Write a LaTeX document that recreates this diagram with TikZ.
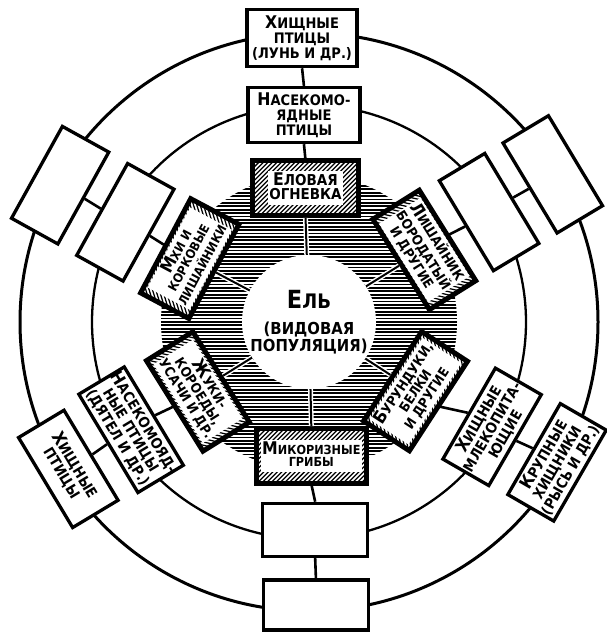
\documentclass[tikz,border=0pt]{standalone}
\usepackage{fontspec}
\setmainfont{DejaVu Sans Condensed Bold}
\usetikzlibrary{positioning}

% initial capital of a small-caps word
\newcommand{\Kap}[1]{{\fontsize{17.5}{15}\selectfont #1}}
% white text field inside a hatched box
\newcommand{\Wt}[2][13.5]{{\fontsize{#1}{14}\selectfont\setlength{\fboxsep}{1.2pt}\renewcommand{\arraystretch}{0.9}\colorbox{white}{\begin{tabular}{@{}c@{}}#2\end{tabular}}}}

\begin{document}
\begin{tikzpicture}[x=1pt, y=1pt, font=\fontsize{14.5}{15}\selectfont]
	% Styles
	\tikzset{box/.style={draw, fill=white, line width=3.3pt, minimum width=105pt, minimum height=53pt, inner sep=0pt, align=center}}
	\tikzset{hatch/.style={line width=1.25pt}}
	\tikzset{link/.style={line width=2.6pt}}
	\tikzset{spoke/.style={line width=2pt, shorten <=1.7pt, preaction={draw=white, line width=5pt, shorten <=1.7pt}}}
	
	\useasboundingbox (0,0) rectangle (606,632);
	\coordinate (c) at (309,310);
	
	% Rings
	\draw[line width=3pt] (c) circle[radius=289];
	\draw[line width=2.3pt] (c) circle[radius=217];
	\begin{scope}
		\clip (c) circle[radius=148];
		\foreach \k in {-44,...,44}
			\draw[line width=1.8pt] ([yshift=\k*3.4pt]c) ++(-150,0) -- ++(300,0);
	\end{scope}
	
	% Spruce population
	\node[circle, fill=white, minimum size=134pt, inner sep=0pt, align=center, font=\fontsize{16.5}{17}\selectfont] (ell) at (c)
		{{\fontsize{25}{17}\selectfont Е\fontsize{20}{17}\selectfont ЛЬ}\\[9pt](ВИДОВАЯ\\ПОПУЛЯЦИЯ)};
	
	% --- Consorts of the first order ---
	\node[box, rotate=0] (ogn) at ([shift={(91.5:134)}]c) {};
	\node[box, rotate=62] (mkh) at ([shift={(152:135)}]c) {};
	\node[box, rotate=-58] (lish) at ([shift={(32:136)}]c) {};
	\node[box, rotate=-58] (zhuk) at ([shift={(212:131)}]c) {};
	\node[box, rotate=57] (bur) at ([shift={(327:127)}]c) {};
	\node[box, rotate=0, minimum width=108pt] (mik) at ([shift={(271:134)}]c) {};
	
	\foreach \n/\r in {ogn/0, mkh/62, lish/-58, zhuk/-58, bur/57, mik/0} {
		\begin{scope}
			\clip (\n.north west) -- (\n.north east) -- (\n.south east) -- (\n.south west) -- cycle;
			\foreach \k in {-24,...,24}
				\draw[hatch, rotate around={45+\r:(\n.center)}] ([yshift=\k*3.2pt]\n.center) ++(-80,0) -- ++(160,0);
		\end{scope}
		\draw[line width=3.3pt] (\n.north west) -- (\n.north east) -- (\n.south east) -- (\n.south west) -- cycle;
	}
	
	\node[rotate=0] (ogn-t) at (ogn) {\Wt[15]{\Kap{Е}ЛОВАЯ\\ОГНЕВКА}};
	\node[rotate=62] (mkh-t) at (mkh) {\Wt[12.5]{\Kap{М}ХИ И\\КОРКОВЫЕ\\ЛИШАЙНИКИ}};
	\node[rotate=-58] (lish-t) at (lish) {\Wt{\Kap{Л}ИШАЙНИК\\БОРОДАТЫЙ\\И ДРУГИЕ}};
	\node[rotate=-58] (zhuk-t) at (zhuk) {\Wt{\Kap{Ж}УКИ-\\КОРОЕДЫ,\\УСАЧИ И ДР.}};
	\node[rotate=57] (bur-t) at (bur) {\Wt{\Kap{Б}УРУНДУКИ,\\БЕЛКИ\\И ДРУГИЕ}};
	\node[rotate=0] (mik-t) at (mik) {\Wt[12.5]{\Kap{М}ИКОРИЗНЫЕ\\ГРИБЫ}};
	
	\draw[spoke] (ogn.south) -- (ell);
	\draw[spoke] (mkh.south) -- (ell);
	\draw[spoke] (lish.south) -- (ell);
	\draw[spoke] (zhuk.north) -- (ell);
	\draw[spoke] (bur.north) -- (ell);
	\draw[spoke] (mik.north) -- (ell);
	
	% --- Second order ---
	\node[box, minimum width=112pt, minimum height=55pt] (nas) at ([shift={(91.4:207)}]c) {\Kap{Н}АСЕКОМО-\\ЯДНЫЕ\\ПТИЦЫ};
	\node[box, rotate=61] (ul2) at ([shift={(151.5:209)}]c) {};
	\node[box, rotate=-59] (ur2) at ([shift={(31.4:211)}]c) {};
	\node[box, rotate=-59] (nasd) at ([shift={(211.2:208)}]c) {\Kap{Н}АСЕКОМОЯД-\\НЫЕ ПТИЦЫ\\(ДЯТЕЛ И ДР.)};
	\node[box, rotate=60] (hml) at ([shift={(330.2:211)}]c) {\Kap{Х}ИЩНЫЕ\\МЛЕКОПИТА-\\ЮЩИЕ};
	\node[box] (b2) at ([shift={(271.7:208)}]c) {};
	
	% --- Third order ---
	\node[box, minimum width=110pt, minimum height=57pt] (hp) at ([shift={(91.4:284)}]c) {\Kap{Х}ИЩНЫЕ\\ПТИЦЫ\\(ЛУНЬ И ДР.)};
	\node[box, rotate=61] (ul3) at ([shift={(151.2:284)}]c) {};
	\node[box, rotate=-59] (ur3) at ([shift={(31.2:285)}]c) {};
	\node[box, rotate=-59] (hpl) at ([shift={(211.4:282)}]c) {\Kap{Х}ИЩНЫЕ\\ПТИЦЫ};
	\node[box, rotate=60] (krh) at ([shift={(330.5:285)}]c) {\Kap{К}РУПНЫЕ\\ХИЩНИКИ\\(РЫСЬ И ДР.)};
	\node[box, minimum height=50pt] (b3) at ([shift={(271.4:283)}]c) {};
	
	% Food links
	\draw[link] (ogn.north) -- (nas.south);
	\draw[link] (nas.north) -- (hp.south);
	\draw[link] (mkh.north) -- (ul2.south);
	\draw[link] (ul2.north) -- (ul3.south);
	\draw[link] (lish.north) -- (ur2.south);
	\draw[link] (ur2.north) -- (ur3.south);
	\draw[link] (zhuk.south) -- (nasd.north);
	\draw[link] (nasd.south) -- (hpl.north);
	\draw[link] (bur.south) -- (hml.north);
	\draw[link] (hml.south) -- (krh.north);
	\draw[link] (mik.south) -- (b2.north);
	\draw[link] (b2.south) -- (b3.north);
\end{tikzpicture}
\end{document}
